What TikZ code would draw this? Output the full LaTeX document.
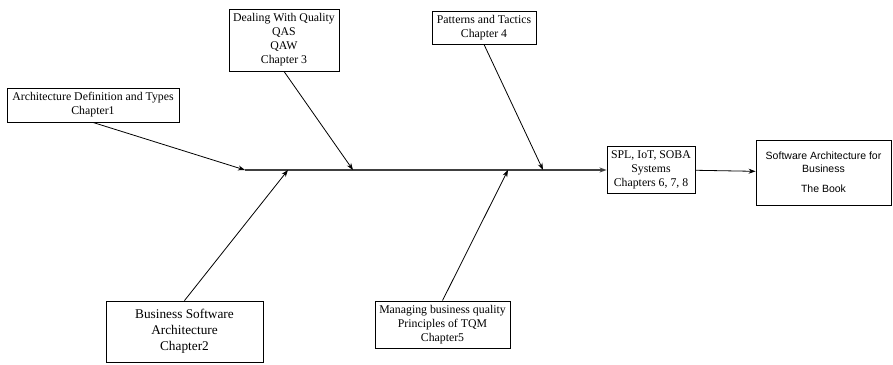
\documentclass[tikz,border=0pt]{standalone}
\usepackage{fontspec}
\setmainfont{Liberation Serif}
\newfontfamily\bookfont{Liberation Sans}
\usetikzlibrary{arrows.meta}

\begin{document}
\begin{tikzpicture}[x=1pt, y=-1pt, ->, >={Stealth[length=7pt,width=5pt]}, line width=0.8pt,
	every node/.style={rectangle, draw, align=center, inner sep=0pt, line width=0.9pt, font=\fontsize{11.8}{14}\selectfont},
	spine/.style={line width=1.6pt, draw=black!75}]

	\useasboundingbox (0,0) rectangle (893,364);

	\node [minimum width=172pt, minimum height=34pt] (ADT) at (93,105) {Architecture Definition and Types\\Chapter1};
	\node [minimum width=110pt, minimum height=62pt] (DWQ) at (284,40) {Dealing With Quality\\QAS\\QAW\\Chapter 3};
	\node [minimum width=104pt, minimum height=33pt] (PT) at (484,27.5) {Patterns and Tactics\\Chapter 4};
	\node [minimum width=157pt, minimum height=61pt, font=\fontsize{13.3}{16}\selectfont] (BSA) at (184.5,331.5) {Business Software\\Architecture\\Chapter2};
	\node [minimum width=135pt, minimum height=47pt] (TQM) at (442.5,324.5) {Managing business quality\\Principles of TQM\\Chapter5};
	\node [minimum width=88pt, minimum height=47pt] (SPL) at (651,169.5) {SPL, IoT, SOBA\\Systems\\Chapters 6, 7, 8};
	\node [minimum width=135pt, minimum height=65pt, font=\bookfont\fontsize{10.5}{12.5}\selectfont] (SAB) at (823.5,172.5) {Software Architecture for\\Business\\[8pt]The Book};

	% spine and the points where the bones meet it
	\coordinate (S0) at (245,170);
	\coordinate (S1) at (288,170);
	\coordinate (S2) at (353,170);
	\coordinate (S3) at (508,170);
	\coordinate (S4) at (543,170);

	\draw [spine] (S0) -- (S0 -| SPL.west);
	\draw (ADT.south) -- (S0);
	\draw (DWQ.south) -- (S2);
	\draw (PT.south) -- (S4);
	\draw (BSA.north) -- (S1);
	\draw (TQM.north) -- (S3);
	\draw (SPL) -- (SAB);

\end{tikzpicture}
\end{document}
